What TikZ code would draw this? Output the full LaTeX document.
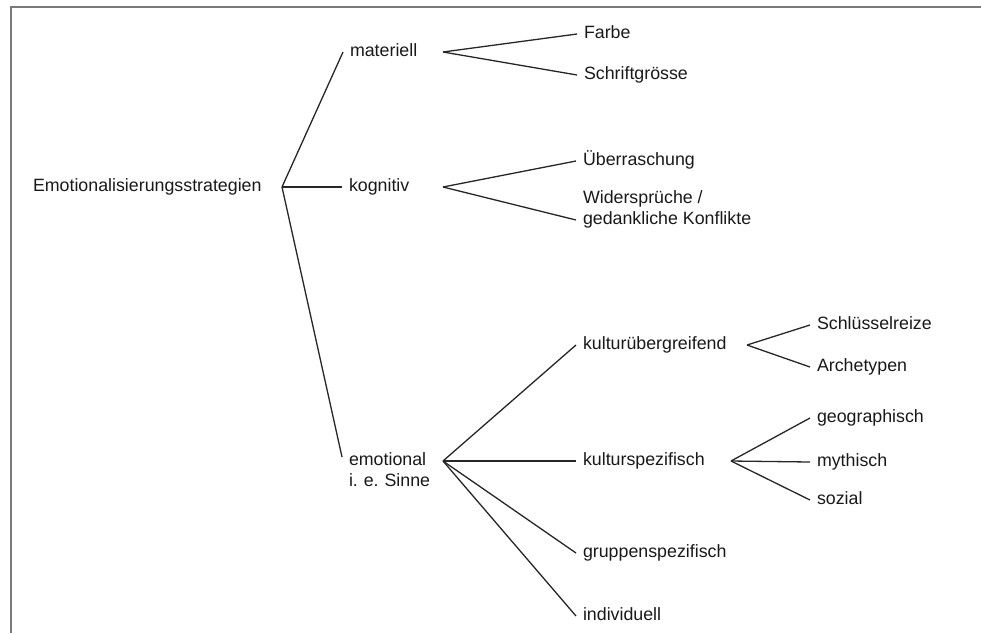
\documentclass[tikz,border=0pt]{standalone}
\usepackage{fontspec}
\setmainfont{Liberation Sans}
\frenchspacing
\begin{document}
\begin{tikzpicture}[x=1pt,y=-1pt,
  lbl/.style={anchor=west,inner xsep=7pt,inner ysep=0pt,outer sep=0pt,text=black!90,
    font=\fontsize{17.8}{21}\selectfont,text height=12.5pt,text depth=3.5pt,align=left},
  conn/.style={draw=black!85,line width=1.3pt},
  frame/.style={draw=black!52,line width=2pt}]
\useasboundingbox (0,0) rectangle (981,633);
\draw[frame] (10.5,633) -- (10.5,6.5) -- (981,6.5);
% level 0
\node[lbl,text width=242pt] (root) at (26,187) {Emotionalisierungsstrategien};
% level 1
\node[lbl,text width=86pt] (mat) at (343,52) {materiell};
\node[lbl,text width=87pt] (kog) at (342,187) {kognitiv};
\node[lbl,text width=87pt] (emo) at (342,461) {emotional\\i.\ e.\ Sinne};
% level 2
\node[lbl] (farbe) at (577,34) {Farbe};
\node[lbl] (schrift) at (577,75) {Schriftgrösse};
\node[lbl] (ueber) at (576,161) {Überraschung};
\node[lbl] (wider) at (576,220) {Widersprüche /\\gedankliche Konflikte};
\node[lbl,text width=157pt] (kueb) at (576,345) {kulturübergreifend};
\node[lbl,text width=141pt] (kspez) at (576,461) {kulturspezifisch};
\node[lbl] (grupp) at (576,553) {gruppenspezifisch};
\node[lbl] (indiv) at (576,616) {individuell};
% level 3
\node[lbl] (schl) at (810,325) {Schlüsselreize};
\node[lbl] (arch) at (810,367) {Archetypen};
\node[lbl] (geo) at (810,418) {geographisch};
\node[lbl] (myth) at (810,462) {mythisch};
\node[lbl] (soz) at (810,500) {sozial};
% connectors
\draw[conn] (root.east) -- (mat.west);
\draw[conn] (root.east) -- (kog.west);
\draw[conn] (root.east) -- ([yshift=4pt]emo.west);
\draw[conn] (mat.east) -- (farbe.west);
\draw[conn] (mat.east) -- (schrift.west);
\draw[conn] (kog.east) -- (ueber.west);
\draw[conn] (kog.east) -- (wider.west);
\draw[conn] (emo.east) -- (kueb.west);
\draw[conn] (emo.east) -- (kspez.west);
\draw[conn] (emo.east) -- (grupp.west);
\draw[conn] (emo.east) -- (indiv.west);
\draw[conn] (kueb.east) -- (schl.west);
\draw[conn] (kueb.east) -- (arch.west);
\draw[conn] (kspez.east) -- (geo.west);
\draw[conn] (kspez.east) -- (myth.west);
\draw[conn] (kspez.east) -- (soz.west);
\end{tikzpicture}
\end{document}
